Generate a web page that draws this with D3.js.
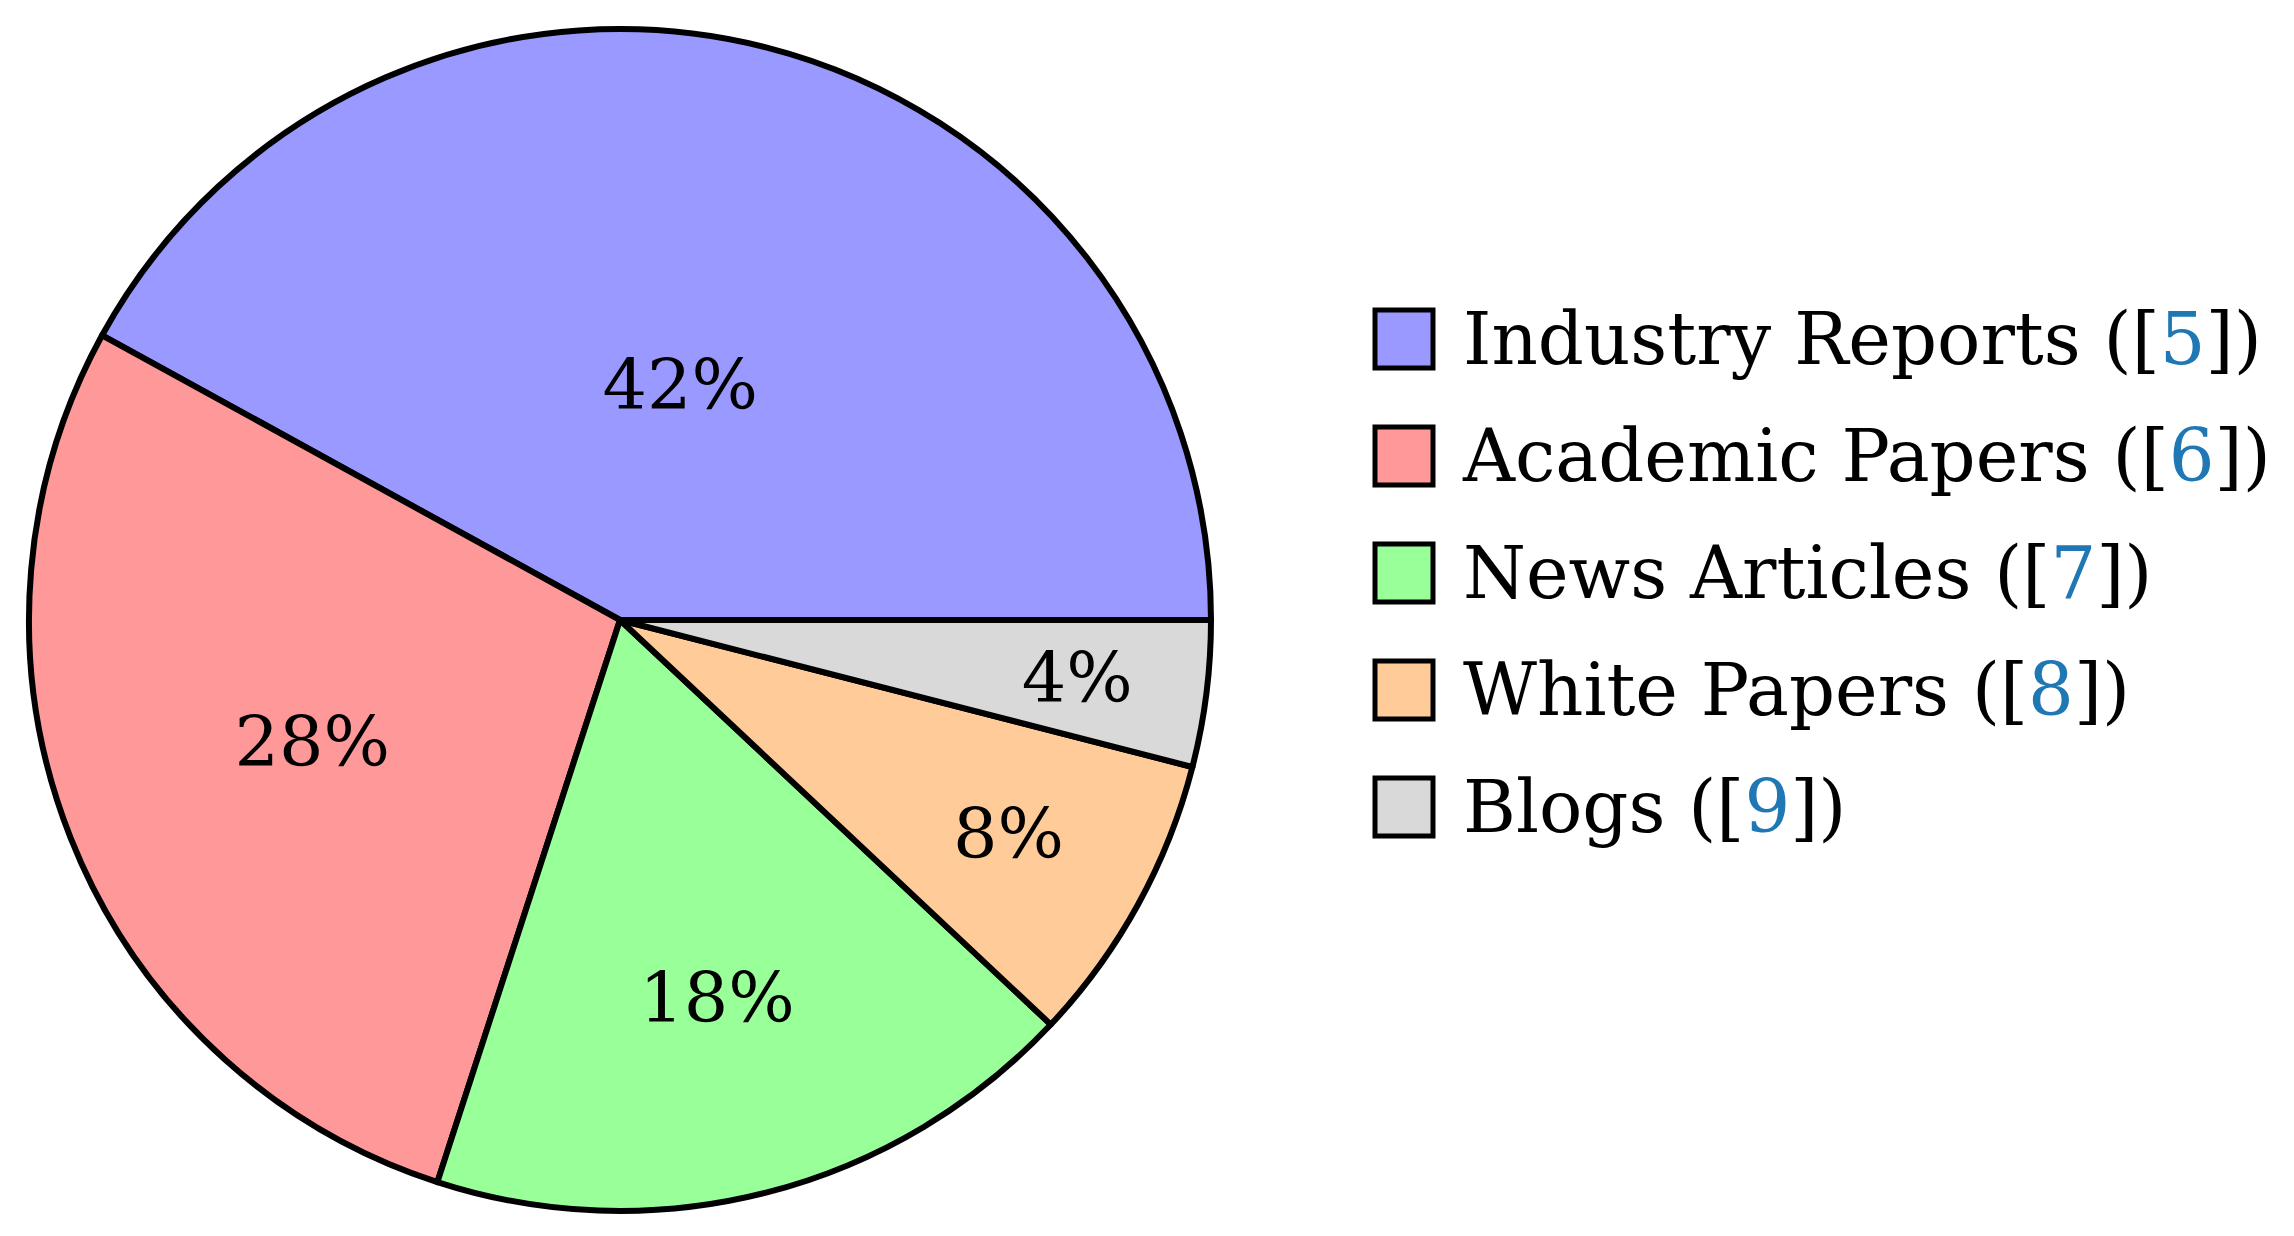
<!DOCTYPE html>
<html><head><meta charset="utf-8">
<script src="https://cdn.jsdelivr.net/npm/d3@7"></script>
<style>body{margin:0;background:#fff}</style>
</head><body><svg id="chart" width="2294" height="1236"></svg>
<script>
const categories = ["Industry Reports", "Academic Papers", "News Articles", "White Papers", "Blogs"];
const refs = ["5", "6", "7", "8", "9"];
const shares = [42, 28, 18, 8, 4];
const colors = ["#9999ff", "#ff9999", "#99ff99", "#ffcc99", "#d9d9d9"];
// label distance from centre, as a fraction of radius
const labelDist = [0.41, 0.56, 0.66, 0.75, 0.78];

const cx = 620, cy = 620, r = 591;
const font = "'DejaVu Serif', serif";
const svg = d3.select('#chart');
const g = svg.append('g').attr('transform', `translate(${cx},${cy})`);

// counter-clockwise from 3 o'clock
const pie = d3.pie().sort(null).startAngle(Math.PI / 2).endAngle(Math.PI / 2 - 2 * Math.PI);
const arcs = pie(shares);
const arc = d3.arc().innerRadius(0).outerRadius(r);

g.selectAll('path').data(arcs).join('path')
    .attr('d', arc)
    .attr('fill', (d, i) => colors[i])
    .attr('stroke', '#000')
    .attr('stroke-width', 6)
    .attr('stroke-linejoin', 'round');

g.selectAll('text.pct').data(arcs).join('text')
    .attr('class', 'pct')
    .attr('x', (d, i) => Math.sin((d.startAngle + d.endAngle) / 2) * r * labelDist[i])
    .attr('y', (d, i) => -Math.cos((d.startAngle + d.endAngle) / 2) * r * labelDist[i])
    .attr('text-anchor', 'middle')
    .attr('dominant-baseline', 'central')
    .style('font-family', font)
    .style('font-size', '70px')
    .text(d => d.data + '%');

const yScale = d3.scalePoint().domain(categories).range([339, 807]);
const leg = svg.append('g');
const rows = leg.selectAll('g').data(categories).join('g')
    .attr('transform', d => `translate(1375,${yScale(d)})`);
rows.append('rect')
    .attr('x', 0).attr('y', -29).attr('width', 58).attr('height', 58)
    .attr('fill', (d, i) => colors[i])
    .attr('stroke', '#000').attr('stroke-width', 5);
const t = rows.append('text')
    .attr('x', 88).attr('y', 0)
    .attr('dominant-baseline', 'central')
    .style('font-family', font)
    .style('font-size', '72px');
t.append('tspan').text(d => d + ' ([');
t.append('tspan').attr('fill', '#1f77b4').text((d, i) => refs[i]);
t.append('tspan').text('])');
</script></body></html>
